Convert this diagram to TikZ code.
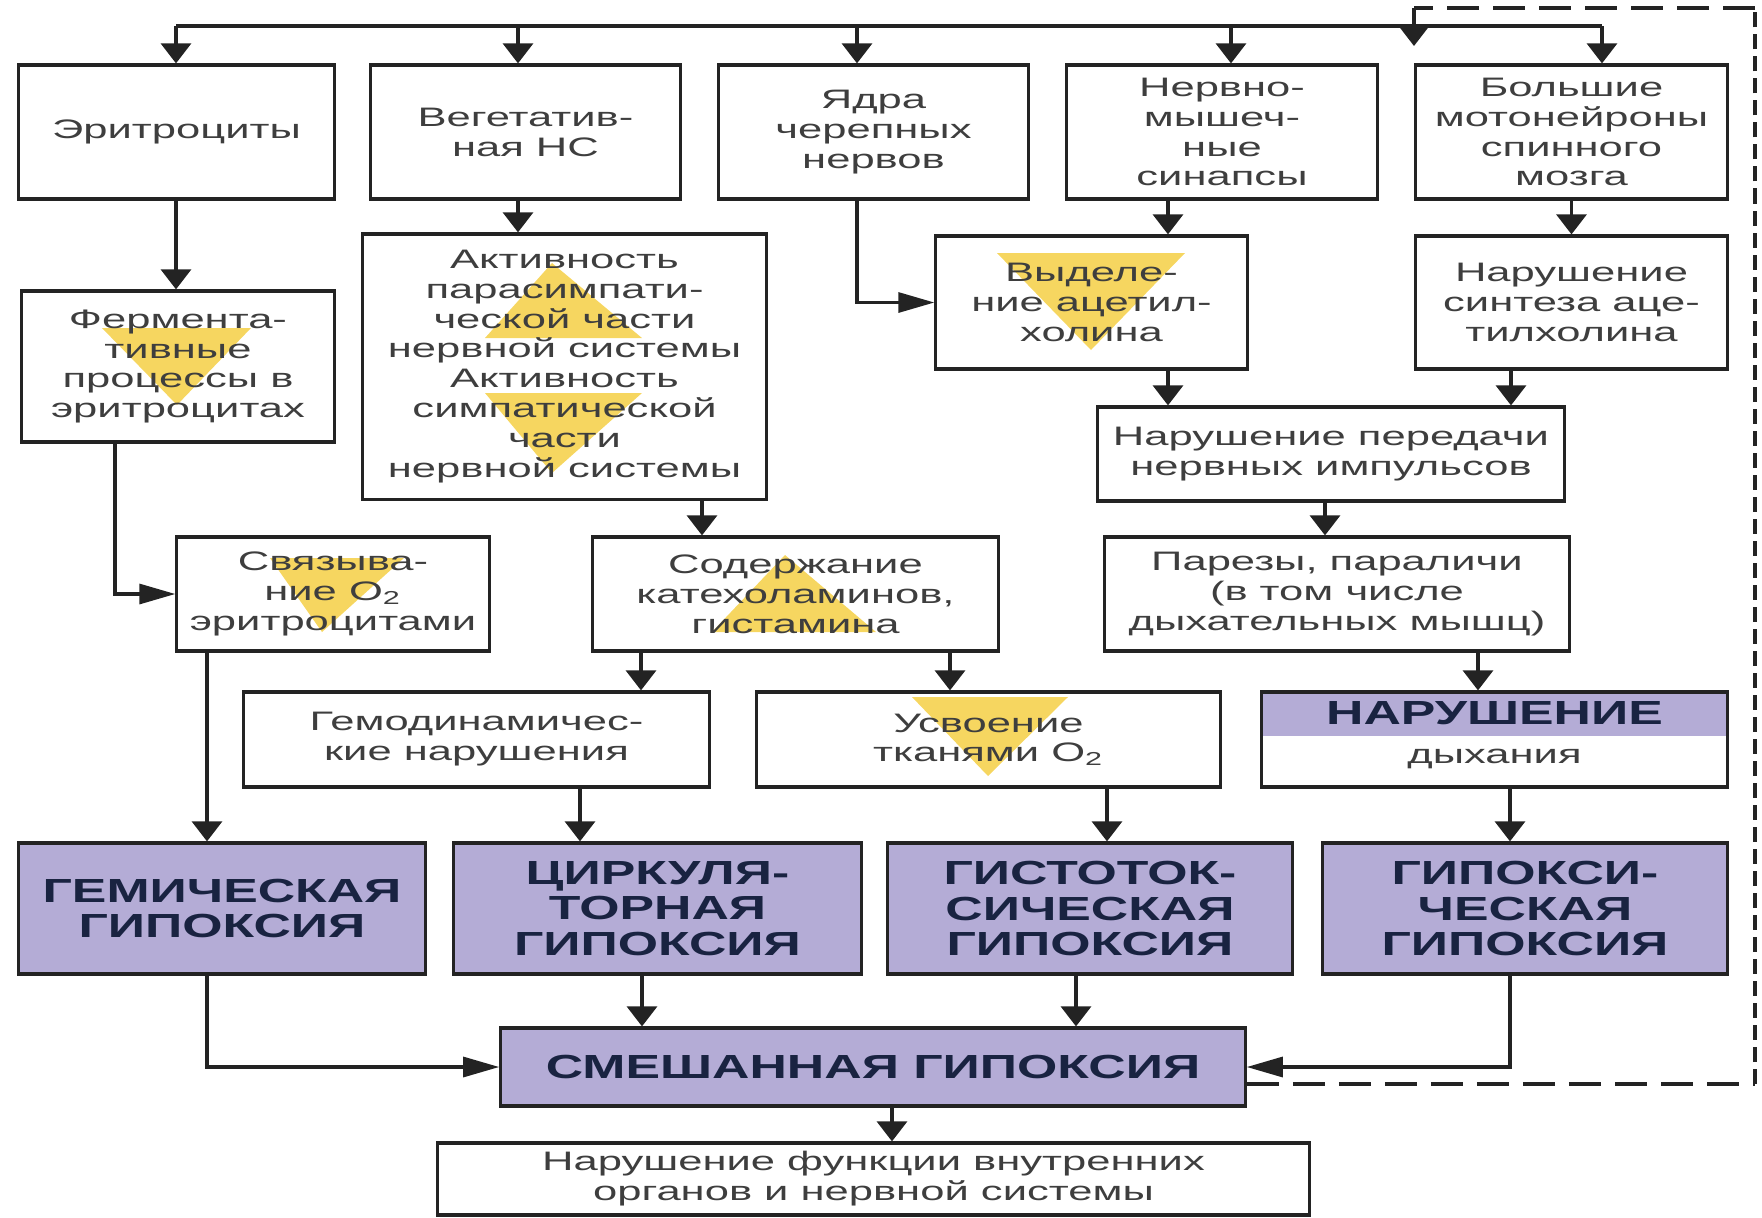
\documentclass[tikz,border=0pt]{standalone}
\usepackage{fontspec}
\setmainfont{Liberation Sans}[UprightFeatures={FakeStretch=1.63}, BoldFeatures={FakeStretch=1.55}]
\usetikzlibrary{arrows.meta, calc, backgrounds}

\definecolor{hypofill}{RGB}{180,172,214}
\definecolor{triyellow}{RGB}{246,214,96}
\definecolor{inktext}{RGB}{62,62,62}
\definecolor{hypotext}{RGB}{25,35,65}
\definecolor{linecol}{RGB}{35,35,35}

\begin{document}
\begin{tikzpicture}[x=0.01cm, y=-0.01cm,
  plaintxt/.style={text=inktext, font=\fontsize{7.6}{8.5}\selectfont, inner sep=0pt},
  headtxt/.style={text=hypotext, font=\fontsize{9.5}{10}\selectfont\bfseries, inner sep=0pt},
  box/.style={plaintxt, draw=linecol, line width=0.9pt, align=center},
  hypo/.style={box, headtxt, fill=hypofill},
  conn/.style={draw=linecol, line width=0.9pt},
  arrd/.style={conn, -{Triangle[length=0.2cm, width=0.3cm]}},
  arrh/.style={conn, -{Triangle[length=0.36cm, width=0.2cm]}},
  fbh/.style={draw=linecol, line width=1pt, dash pattern=on 0.32cm off 0.14cm},
  fbv/.style={draw=linecol, line width=1pt, dash pattern=on 0.15cm off 0.07cm},
  tri/.style={fill=triyellow}]
  \useasboundingbox (0,0) rectangle (1762,1217);

  % yellow marks behind the text
  \fill[tri] (102,328) -- (251,328) -- (177,405) -- cycle;
  \fill[tri] (485,338) -- (642,338) -- (552,263) -- cycle;
  \fill[tri] (485,393) -- (642,393) -- (552,473) -- cycle;
  \fill[tri] (270,558) -- (404,558) -- (322,632) -- cycle;
  \fill[tri] (712,632) -- (876,632) -- (785,555) -- cycle;
  \fill[tri] (997,253) -- (1185,253) -- (1091,350) -- cycle;
  \fill[tri] (912,697) -- (1068,697) -- (988,776) -- cycle;

  \node[box, minimum width=3.15cm, minimum height=1.34cm] (eri) at (176.5,132) {Эритроциты};
  \node[box, minimum width=3.09cm, minimum height=1.34cm] (veg) at (525.5,132) {Вегетатив-\\ная НС};
  \node[box, minimum width=3.09cm, minimum height=1.34cm] (yadra) at (873.5,132) {Ядра\\черепных\\нервов};
  \node[box, minimum width=3.10cm, minimum height=1.34cm] (sin) at (1222,132) {Нервно-\\мышеч-\\ные\\синапсы};
  \node[box, minimum width=3.11cm, minimum height=1.34cm] (moto) at (1571.5,132) {Большие\\мотонейроны\\спинного\\мозга};

  \node[box, minimum width=3.12cm, minimum height=1.51cm] (ferm) at (178,366.5) {Фермента-\\тивные\\процессы в\\эритроцитах};
  \node[box, minimum width=4.03cm, minimum height=2.65cm] (akt) at (564.5,366.5) {Активность\\парасимпати-\\ческой части\\нервной системы\\Активность\\симпатической\\части\\нервной системы};
  \node[box, minimum width=3.11cm, minimum height=1.33cm] (vyd) at (1091.5,302.5) {Выделе-\\ние ацетил-\\холина};
  \node[box, minimum width=3.11cm, minimum height=1.33cm] (sint) at (1571.5,302.5) {Нарушение\\синтеза аце-\\тилхолина};

  \node[box, minimum width=4.66cm, minimum height=0.94cm] (pered) at (1331,454) {Нарушение передачи\\нервных импульсов};
  \node[box, minimum width=3.12cm, minimum height=1.14cm] (svyaz) at (333,594) {Связыва-\\ние O\textsubscript{2}\\эритроцитами};
  \node[box, minimum width=4.05cm, minimum height=1.14cm] (soder) at (795.5,594) {Содержание\\катехоламинов,\\гистамина};
  \node[box, minimum width=4.64cm, minimum height=1.14cm] (parez) at (1337,594) {Парезы, параличи\\(в том числе\\дыхательных мышц)};

  \node[box, minimum width=4.65cm, minimum height=0.95cm] (gemod) at (476.5,739.5) {Гемодинамичес-\\кие нарушения};
  \node[box, minimum width=4.63cm, minimum height=0.95cm] (usvo) at (988.5,739.5) {Усвоение\\тканями O\textsubscript{2}};
  \node[box, minimum width=4.65cm, minimum height=0.95cm] (narush) at (1494.5,739.5) {};
  \begin{scope}[on background layer]
    \fill[hypofill] (narush.north west) rectangle ($(narush.north east)+(0,46)$);
  \end{scope}
  \node[headtxt] (narushhead) at ($(narush.north)+(0,23)$) {НАРУШЕНИЕ};
  \node[plaintxt] (narushfoot) at ($(narush.north)+(0,69)$) {дыхания};

  \node[hypo, minimum width=4.06cm, minimum height=1.31cm] (gem) at (222,908.5) {ГЕМИЧЕСКАЯ\\ГИПОКСИЯ};
  \node[hypo, minimum width=4.07cm, minimum height=1.31cm] (cirk) at (657.5,908.5) {ЦИРКУЛЯ-\\ТОРНАЯ\\ГИПОКСИЯ};
  \node[hypo, minimum width=4.04cm, minimum height=1.31cm] (gisto) at (1090,908.5) {ГИСТОТОК-\\СИЧЕСКАЯ\\ГИПОКСИЯ};
  \node[hypo, minimum width=4.04cm, minimum height=1.31cm] (gipoks) at (1525,908.5) {ГИПОКСИ-\\ЧЕСКАЯ\\ГИПОКСИЯ};

  \node[hypo, minimum width=7.44cm, minimum height=0.78cm] (mix) at (873,1067) {СМЕШАННАЯ ГИПОКСИЯ};
  \node[box, minimum width=8.71cm, minimum height=0.72cm] (organ) at (873.5,1179) {Нарушение функции внутренних\\органов и нервной системы};

  % top distribution line
  \coordinate (t1) at (176,26);
  \coordinate (t2) at (518,26);
  \coordinate (t3) at (857,26);
  \coordinate (t4) at (1231,26);
  \coordinate (t5) at (1602,26);
  \draw[conn] (t1) -- (t5);
  \draw[arrd] (t1) -- (t1 |- eri.north);
  \draw[arrd] (t2) -- (t2 |- veg.north);
  \draw[arrd] (t3) -- (t3 |- yadra.north);
  \draw[arrd] (t4) -- (t4 |- sin.north);
  \draw[arrd] (t5) -- (t5 |- moto.north);

  % links between the boxes
  \draw[arrd] (eri.south -| t1) -- (ferm.north -| t1);
  \draw[arrd] (veg.south -| t2) -- (akt.north -| t2);
  \draw[arrh] (yadra.south -| t3) |- (vyd.west);
  \draw[arrd] (sin.south -| 1168,0) -- (vyd.north -| 1168,0);
  \draw[arrd] (moto.south) -- (sint.north);
  \draw[arrd] (vyd.south -| 1168,0) -- (pered.north -| 1168,0);
  \draw[arrd] (sint.south -| 1511,0) -- (pered.north -| 1511,0);
  \draw[arrh] (ferm.south -| 115,0) |- (svyaz.west);
  \draw[arrd] (akt.south -| 702,0) -- (soder.north -| 702,0);
  \draw[arrd] (pered.south -| 1325,0) -- (parez.north -| 1325,0);
  \draw[arrd] (soder.south -| 641,0) -- (gemod.north -| 641,0);
  \draw[arrd] (soder.south -| 950,0) -- (usvo.north -| 950,0);
  \draw[arrd] (parez.south -| 1478,0) -- (narush.north -| 1478,0);
  \draw[arrd] (svyaz.south -| 207,0) -- (gem.north -| 207,0);
  \draw[arrd] (gemod.south -| 580,0) -- (cirk.north -| 580,0);
  \draw[arrd] (usvo.south -| 1107,0) -- (gisto.north -| 1107,0);
  \draw[arrd] (narush.south -| 1510,0) -- (gipoks.north -| 1510,0);
  \draw[arrh] (gem.south -| 207,0) |- (mix.west);
  \draw[arrd] (cirk.south -| 642,0) -- (mix.north -| 642,0);
  \draw[arrd] (gisto.south -| 1076,0) -- (mix.north -| 1076,0);
  \draw[arrh] (gipoks.south -| 1510,0) |- (mix.east);
  \draw[arrd] (mix.south -| 892,0) -- (organ.north -| 892,0);

  % dashed feedback
  \coordinate (fbA) at (1755,1084);
  \coordinate (fbB) at (1755,8);
  \coordinate (fbC) at (1414,8);
  \coordinate (fbD) at (1414,46);
  \draw[fbh] (mix.east |- fbA) -- (fbA);
  \draw[fbv] (fbA) -- (fbB);
  \draw[fbh] (fbB) -- (fbC);
  \draw[arrd] (fbC) -- (fbD);
\end{tikzpicture}
\end{document}
